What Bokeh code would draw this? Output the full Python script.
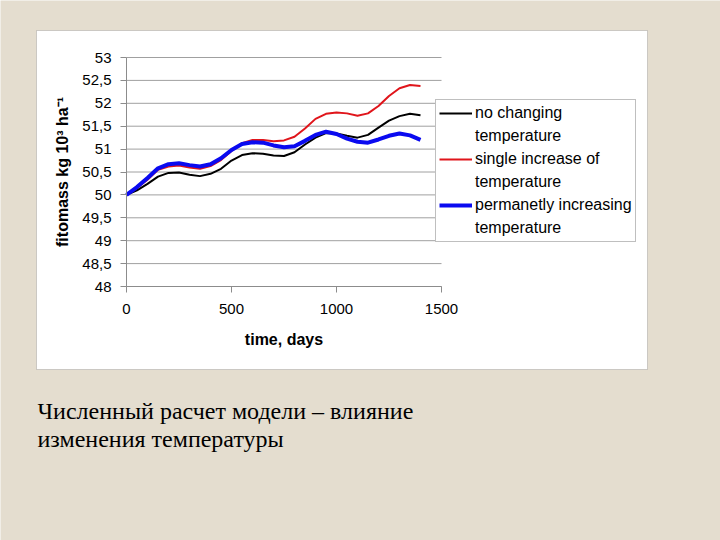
import math
from bokeh.plotting import figure
from bokeh.models import (BoxAnnotation, Label, Legend, LegendItem, LinearAxis,
                          CustomJSTickFormatter, FixedTicker, Range1d)
from bokeh.embed import file_html
from bokeh.resources import INLINE

# ---- data ----
days = [0, 50, 100, 150, 200, 250, 300, 350, 400, 450, 500, 550, 600, 650, 700,
        750, 800, 850, 900, 950, 1000, 1050, 1100, 1150, 1200, 1250, 1300, 1350, 1400]
no_changing = [50.00, 50.10, 50.24, 50.40, 50.48, 50.49, 50.44, 50.41, 50.46, 50.57,
               50.75, 50.87, 50.91, 50.90, 50.86, 50.85, 50.93, 51.10, 51.25, 51.35,
               51.34, 51.29, 51.25, 51.31, 51.47, 51.62, 51.72, 51.77, 51.74]
single_increase = [50.00, 50.15, 50.33, 50.55, 50.62, 50.64, 50.60, 50.57, 50.63, 50.76,
                   50.96, 51.13, 51.20, 51.20, 51.17, 51.19, 51.27, 51.45, 51.66, 51.77,
                   51.80, 51.78, 51.73, 51.78, 51.94, 52.16, 52.33, 52.40, 52.38]
permanent_increase = [50.00, 50.17, 50.37, 50.58, 50.67, 50.69, 50.65, 50.62, 50.67, 50.80,
                      50.98, 51.11, 51.15, 51.14, 51.08, 51.04, 51.06, 51.18, 51.31, 51.38,
                      51.33, 51.23, 51.16, 51.14, 51.21, 51.29, 51.34, 51.30, 51.20]
x_ticks = [0, 500, 1000, 1500]
y_ticks = [48, 48.5, 49, 49.5, 50, 50.5, 51, 51.5, 52, 52.5, 53]
series_labels = [["no changing", "temperature"],
                 ["single increase of", "temperature"],
                 ["permanetly increasing", "temperature"]]
x_label = "time, days"
y_label = "fitomass kg 10³ ha⁻¹"
caption_lines = ["Численный расчет модели – влияние",
                 "изменения температуры"]

# ---- layout constants (pixels on the 720x540 page) ----
W, H = 720, 540
PL, PR, PT, PB = 126, 441, 57, 286          # plot area
BOX = (36, 647, 30, 369)                    # white chart panel l, r, t, b
X0, X1 = x_ticks[0], x_ticks[-1]
Y0, Y1 = y_ticks[0], y_ticks[-1]
kx = (X1 - X0) / (PR - PL)
ky = (Y1 - Y0) / (PB - PT)
x_range = Range1d(X0 - PL * kx, X1 + (W - PR) * kx)
y_range = Range1d(Y0 - (H - PB) * ky, Y1 + PT * ky)

BG = "#E4DDCF"
GRID = "#A0A0A0"
AXIS = "#8C8C8C"
FONT = "Liberation Sans"

p = figure(width=W, height=H, output_backend="svg", toolbar_location=None,
           x_range=x_range, y_range=y_range,
           x_axis_type=None, y_axis_type=None, min_border=0)
p.border_fill_color = BG
p.background_fill_color = BG
p.outline_line_color = None
p.grid.visible = False

# white chart panel
p.add_layout(BoxAnnotation(left=BOX[0], right=BOX[1], top=H - BOX[2], bottom=H - BOX[3],
                           left_units="screen", right_units="screen",
                           top_units="screen", bottom_units="screen",
                           fill_color="white", fill_alpha=1.0,
                           line_color="#707070", line_width=1, level="image"))

# horizontal grid lines across the plot area
p.segment(x0=[X0] * len(y_ticks), x1=[X1] * len(y_ticks), y0=y_ticks, y1=y_ticks,
          line_color=GRID, line_width=1)

r1 = p.line(days, no_changing, line_color="black", line_width=2)
r2 = p.line(days, single_increase, line_color="#E0151B", line_width=2)
r3 = p.line(days, permanent_increase, line_color="#0A0AF0", line_width=4)

# axes, anchored at the plot area's edges
xaxis = LinearAxis(fixed_location=Y0, bounds=(X0, X1), ticker=FixedTicker(ticks=x_ticks))
yaxis = LinearAxis(fixed_location=X0, bounds=(Y0, Y1), ticker=FixedTicker(ticks=y_ticks),
                   formatter=CustomJSTickFormatter(code="return tick.toString().replace('.', ',')"))
for ax in (xaxis, yaxis):
    ax.axis_line_color = AXIS
    ax.major_tick_line_color = AXIS
    ax.major_tick_in = 0
    ax.major_tick_out = 6
    ax.minor_tick_line_color = None
    ax.major_label_text_font = FONT
    ax.major_label_text_font_size = "15px"
    ax.major_label_text_color = "black"
xaxis.major_label_standoff = 11
yaxis.major_label_standoff = 9
p.add_layout(xaxis, "below")
p.add_layout(yaxis, "left")

# axis titles
p.add_layout(Label(x=(X0 + X1) / 2, y=H - 339, x_units="data", y_units="screen",
                   text=x_label, text_font=FONT, text_font_size="16px",
                   text_font_style="bold", text_color="black",
                   text_align="center", text_baseline="alphabetic"))
p.add_layout(Label(x=62, y=(Y0 + Y1) / 2, x_units="screen", y_units="data",
                   text=y_label, text_font=FONT, text_font_size="16px",
                   text_font_style="bold", text_color="black", angle=math.pi / 2,
                   text_align="center", text_baseline="alphabetic"))

# legend: first line of each entry carries the series line, second line continues the text
series_renderers = [r1, r2, r3]
items = []
for rend, (first, second) in zip(series_renderers, series_labels):
    blank = p.line(x=[], y=[], line_alpha=0)
    items.append(LegendItem(label=first, renderers=[rend]))
    items.append(LegendItem(label=second, renderers=[blank]))
legend = Legend(items=items, location=(435, H - 242))
legend.border_line_color = "#808080"
legend.border_line_width = 1
legend.background_fill_color = "white"
legend.background_fill_alpha = 1.0
legend.label_text_font = FONT
legend.label_text_font_size = "16px"
legend.label_text_color = "black"
legend.glyph_width = 33
legend.glyph_height = 20
legend.label_height = 20
legend.label_standoff = 3
legend.spacing = 3
legend.padding = 3
legend.margin = 0
p.add_layout(legend, "center")

# caption
for i, line in enumerate(caption_lines):
    p.add_layout(Label(x=37, y=130 - 28 * i, x_units="screen", y_units="screen",
                       text=line, text_font="Liberation Serif",
                       text_font_size="24px", text_color="black",
                       text_baseline="alphabetic"))

open("out.html", "w").write(file_html(p, INLINE))
